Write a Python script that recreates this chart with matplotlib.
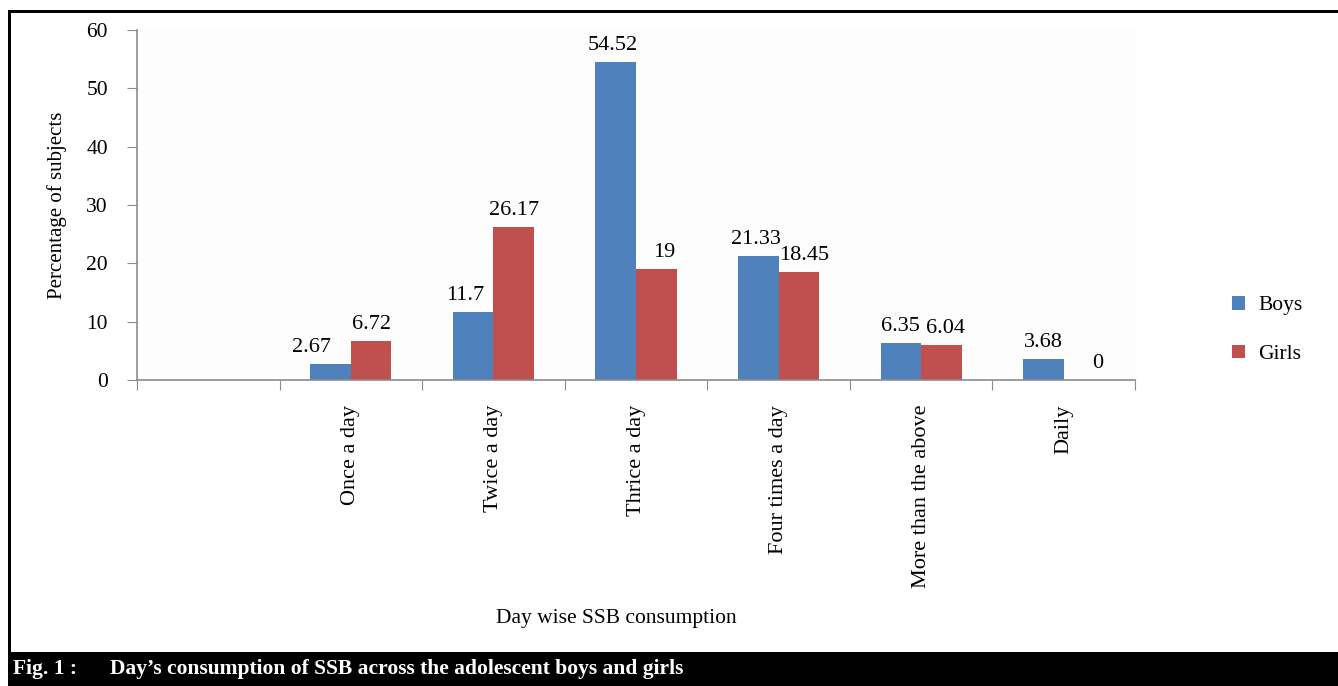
import matplotlib
matplotlib.use("Agg")
import matplotlib.pyplot as plt
from matplotlib.patches import Rectangle
import numpy as np

plt.rcParams['font.family'] = ['Liberation Serif', 'DejaVu Serif']

# data
categories = ["", "Once a day", "Twice a day", "Thrice a day",
              "Four times a day", "More than the above", "Daily"]
boys = [np.nan, 2.67, 11.7, 54.52, 21.33, 6.35, 3.68]
girls = [np.nan, 6.72, 26.17, 19, 18.45, 6.04, 0]
boys_txt = ["", "2.67", "11.7", "54.52", "21.33", "6.35", "3.68"]
girls_txt = ["", "6.72", "26.17", "19", "18.45", "6.04", "0"]

blue = "#4F81BD"
red = "#C0504D"
axis_grey = "#8C8C8C"

fig = plt.figure(figsize=(13.38, 6.86), dpi=100)
ax = fig.add_axes([137/1338, 1-380/686, 998/1338, 350/686])
ax.set_facecolor("#FDFDFD")

x = np.arange(len(categories))
w = 0.285
ax.bar(x - w/2, boys, w, color=blue, label="Boys")
ax.bar(x + w/2, girls, w, color=red, label="Girls")

# label nudges in points (x) to follow the original placement
bx_off = [0, -14, -6, -2, -2, 0, 0]
gx_off = [0, 0, 0, 6, 4, 3, 10]
for i in range(1, len(categories)):
    ax.annotate(boys_txt[i], (x[i] - w/2, boys[i]), xytext=(bx_off[i], 5),
                textcoords="offset points", ha="center", va="bottom", fontsize=16)
    ax.annotate(girls_txt[i], (x[i] + w/2, girls[i]), xytext=(gx_off[i], 5),
                textcoords="offset points", ha="center", va="bottom", fontsize=16)

ax.set_xlim(-0.5, len(categories) - 0.5)
ax.set_ylim(0, 60)
ax.set_yticks(range(0, 61, 10))
ax.tick_params(axis="y", direction="out", length=7, color=axis_grey,
               labelsize=15.5, pad=14)

ax.set_xticks(np.arange(-0.5, len(categories), 1.0))
ax.set_xticklabels([])
ax.tick_params(axis="x", which="major", direction="out", length=7, color=axis_grey)
ax.set_xticks(x, minor=True)
ax.set_xticklabels(categories, minor=True, rotation=90, fontsize=16)
ax.tick_params(axis="x", which="minor", length=0, pad=18)

for s in ["top", "right"]:
    ax.spines[s].set_visible(False)
for s in ["left", "bottom"]:
    ax.spines[s].set_color(axis_grey)
    ax.spines[s].set_linewidth(1.2)

ax.set_ylabel("Percentage of subjects", fontsize=15, labelpad=14)
fig.text(616/1338, 1-618/686, "Day wise SSB consumption", ha="center",
         va="center", fontsize=15.5)

fig.legend(loc="center left", bbox_to_anchor=(1213/1338, 1-330/686),
           frameon=False, fontsize=15.5, handlelength=0.6, handleheight=0.6,
           labelspacing=1.35, handletextpad=0.6)

# frame and caption bar
fig.add_artist(Rectangle((8/1338, 0), 3/1338, 1-11/686, transform=fig.transFigure,
                         color="black", lw=0))
fig.add_artist(Rectangle((8/1338, 1-13/686), 1, 3/686, transform=fig.transFigure,
                         color="black", lw=0))
fig.add_artist(Rectangle((8/1338, 0), 1, 34/686, transform=fig.transFigure,
                         color="black", lw=0))
fig.text(13/1338, 17/686, "Fig. 1 :", color="white", fontweight="bold",
         fontsize=15.5, va="center", ha="left")
fig.text(110/1338, 17/686,
         "Day\u2019s consumption of SSB across the adolescent boys and girls",
         color="white", fontweight="bold", fontsize=15.5, va="center", ha="left")

fig.savefig("out.png", dpi=100)
